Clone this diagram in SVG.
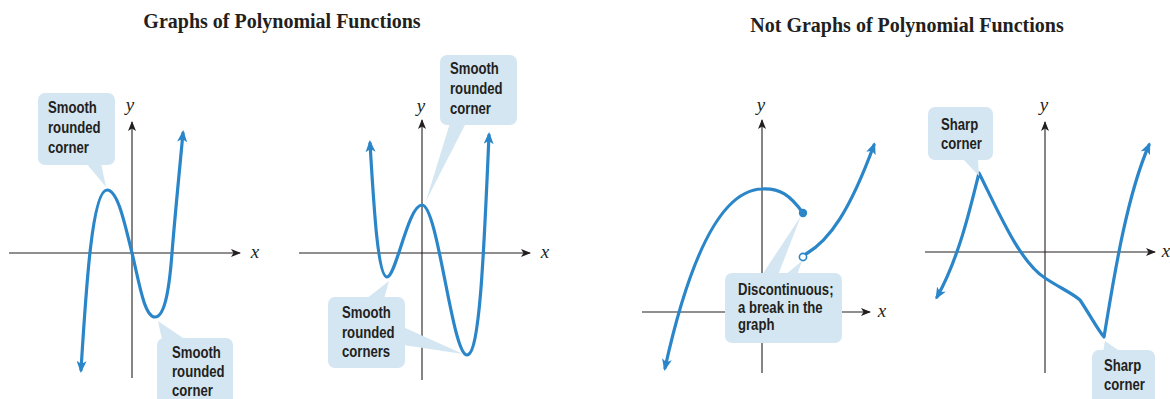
<svg xmlns="http://www.w3.org/2000/svg" width="1170" height="399" viewBox="0 0 1170 399">
<style>
.title{font-family:"Liberation Serif","Times New Roman",serif;font-weight:bold;font-size:20px;fill:#231f20;text-anchor:middle}
.ax{stroke:#231f20;stroke-width:1.1;fill:none}
.axl{font-family:"Liberation Serif","Times New Roman",serif;font-style:italic;font-size:19px;fill:#231f20;text-anchor:middle}
.curve{stroke:#2a86c8;stroke-width:3.2;fill:none;stroke-linejoin:round;stroke-linecap:round}
.box{fill:#d4e6f1}
.lbl{font-family:"Liberation Sans",Arial,sans-serif;font-weight:bold;font-size:16.5px;fill:#231f20}
</style>
<defs>
<marker id="ab" viewBox="0 0 12 10" refX="9" refY="5" markerWidth="12" markerHeight="10" markerUnits="userSpaceOnUse" orient="auto-start-reverse">
<path d="M0,0 L12,5 L0,10 L3,5 z" fill="#2a86c8"/>
</marker>
<marker id="ak" viewBox="0 0 10 8" refX="9" refY="4" markerWidth="10" markerHeight="8" markerUnits="userSpaceOnUse" orient="auto">
<path d="M0,0 L10,4 L0,8 L2.5,4 z" fill="#231f20"/>
</marker>
</defs>
<rect width="1170" height="399" fill="#ffffff"/>
<text class="title" x="282" y="28">Graphs of Polynomial Functions</text>
<text class="title" x="907" y="32">Not Graphs of Polynomial Functions</text>

<g id="graph1">
<line class="ax" x1="9" y1="253" x2="240" y2="253" marker-end="url(#ak)"/>
<line class="ax" x1="132" y1="378" x2="132" y2="122" marker-end="url(#ak)"/>
<text class="axl" x="130" y="111">y</text>
<text class="axl" x="255" y="258">x</text>
<path class="curve" d="M81,370 C86,290 92,190 107,190 C118,190 125,225 132,253 C139,281 144,317 155,317 C166,317 170,280 172,253 C175,215 180,165 183,133" marker-start="url(#ab)" marker-end="url(#ab)"/>
</g>
<g id="callout1a">
<polygon class="box" points="86,163 101,163 106,187"/>
<rect class="box" x="38" y="93" width="77" height="72" rx="7"/>
<text class="lbl" x="48" y="113" textLength="48.8" lengthAdjust="spacingAndGlyphs">Smooth</text>
<text class="lbl" x="48" y="133" textLength="52.5" lengthAdjust="spacingAndGlyphs">rounded</text>
<text class="lbl" x="48" y="153" textLength="40.8" lengthAdjust="spacingAndGlyphs">corner</text>
</g>
<g id="callout1b">
<polygon class="box" points="158,321 162,340 186,340"/>
<rect class="box" x="157" y="338" width="76" height="72" rx="7"/>
<text class="lbl" x="172" y="358" textLength="48.8" lengthAdjust="spacingAndGlyphs">Smooth</text>
<text class="lbl" x="172" y="377" textLength="52.5" lengthAdjust="spacingAndGlyphs">rounded</text>
<text class="lbl" x="172" y="396" textLength="40.8" lengthAdjust="spacingAndGlyphs">corner</text>
</g>

<g id="graph2">
<line class="ax" x1="299" y1="253" x2="530" y2="253" marker-end="url(#ak)"/>
<line class="ax" x1="422" y1="380" x2="422" y2="120" marker-end="url(#ak)"/>
<text class="axl" x="421" y="112">y</text>
<text class="axl" x="545" y="258">x</text>
<path class="curve" d="M370,143 C374,210 378,277 387,277 C396,277 408,205 422,205 C438,205 452,355 467,355 C480,355 484,250 489,135" marker-start="url(#ab)" marker-end="url(#ab)"/>
</g>
<g id="callout2a">
<polygon class="box" points="450,123 466,123 426,201"/>
<rect class="box" x="440" y="55" width="77" height="70" rx="7"/>
<text class="lbl" x="450" y="74" textLength="48.8" lengthAdjust="spacingAndGlyphs">Smooth</text>
<text class="lbl" x="450" y="94" textLength="52.5" lengthAdjust="spacingAndGlyphs">rounded</text>
<text class="lbl" x="450" y="114" textLength="40.8" lengthAdjust="spacingAndGlyphs">corner</text>
</g>
<g id="callout2b">
<polygon class="box" points="366,299 384,299 389,281"/>
<polygon class="box" points="403,327 403,345 463,354"/>
<rect class="box" x="328" y="297" width="77" height="71" rx="7"/>
<text class="lbl" x="342" y="318" textLength="48.8" lengthAdjust="spacingAndGlyphs">Smooth</text>
<text class="lbl" x="342" y="338" textLength="52.5" lengthAdjust="spacingAndGlyphs">rounded</text>
<text class="lbl" x="342" y="357" textLength="48.1" lengthAdjust="spacingAndGlyphs">corners</text>
</g>

<g id="graph3">
<line class="ax" x1="642" y1="312" x2="870" y2="312" marker-end="url(#ak)"/>
<line class="ax" x1="762" y1="373" x2="762" y2="120" marker-end="url(#ak)"/>
<text class="axl" x="761" y="111">y</text>
<text class="axl" x="882" y="317">x</text>
<path class="curve" d="M803,213 C790,195 780,188 762,189 C722,190 690,255 665,368" marker-end="url(#ab)"/>
<path class="curve" d="M806,254 C830,240 850,210 874,145" marker-end="url(#ab)"/>
</g>
<g id="callout3">
<polygon class="box" points="762,275 778,275 801,216"/>
<polygon class="box" points="785,275 797,275 802,261"/>
<rect class="box" x="725" y="273" width="117" height="70" rx="7"/>
<text class="lbl" x="738" y="295" textLength="95.5" lengthAdjust="spacingAndGlyphs">Discontinuous;</text>
<text class="lbl" x="738" y="313" textLength="84.6" lengthAdjust="spacingAndGlyphs">a break in the</text>
<text class="lbl" x="738" y="330" textLength="36.4" lengthAdjust="spacingAndGlyphs">graph</text>
</g>
<g id="dots3">
<circle cx="803" cy="213" r="4.2" fill="#2a86c8"/>
<circle cx="803" cy="257" r="3.6" fill="#ffffff" stroke="#2a86c8" stroke-width="1.6"/>
</g>

<g id="graph4">
<line class="ax" x1="925" y1="252" x2="1155" y2="252" marker-end="url(#ak)"/>
<line class="ax" x1="1045" y1="373" x2="1045" y2="122" marker-end="url(#ak)"/>
<text class="axl" x="1044" y="111">y</text>
<text class="axl" x="1166" y="257">x</text>
<path class="curve" d="M937,297 C958,260 970,210 979,173 C1000,215 1020,262 1045,278 C1060,288 1072,293 1080,300 C1090,315 1098,330 1104,337 C1112,290 1125,200 1149,145" marker-start="url(#ab)" marker-end="url(#ab)"/>
</g>
<g id="callout4a">
<polygon class="box" points="962,158 978,158 979,176"/>
<rect class="box" x="928" y="107" width="65" height="53" rx="7"/>
<text class="lbl" x="941" y="130" textLength="37.2" lengthAdjust="spacingAndGlyphs">Sharp</text>
<text class="lbl" x="941" y="149" textLength="40.8" lengthAdjust="spacingAndGlyphs">corner</text>
</g>
<g id="callout4b">
<polygon class="box" points="1105,341 1103,352 1121,352"/>
<rect class="box" x="1092" y="350" width="63" height="60" rx="7"/>
<text class="lbl" x="1104" y="371" textLength="37.2" lengthAdjust="spacingAndGlyphs">Sharp</text>
<text class="lbl" x="1104" y="390" textLength="40.8" lengthAdjust="spacingAndGlyphs">corner</text>
</g>
</svg>
